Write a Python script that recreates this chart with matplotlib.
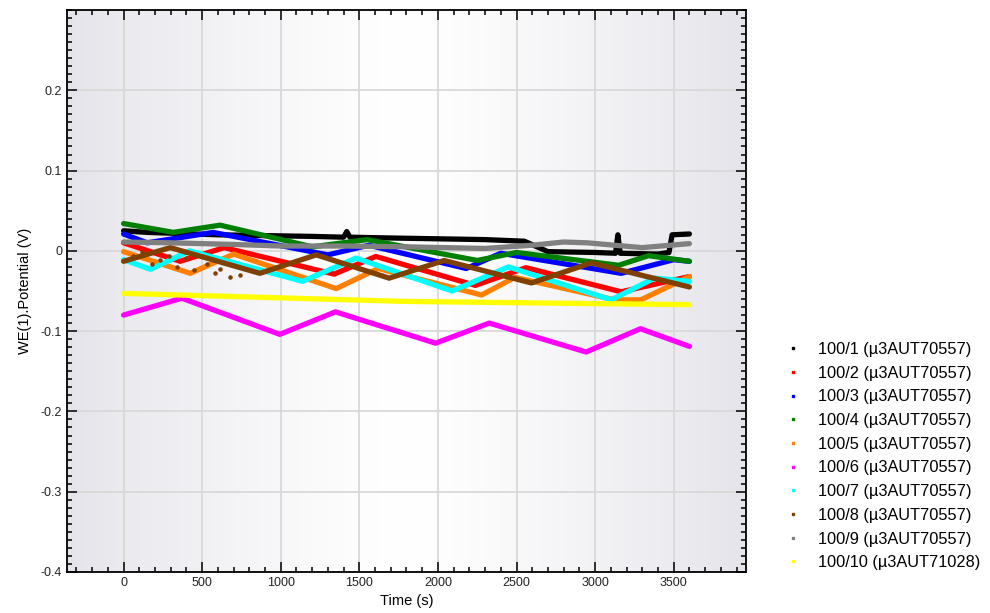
import numpy as np
import matplotlib.pyplot as plt
from matplotlib.lines import Line2D
from matplotlib.ticker import MultipleLocator

plt.rcParams['font.family'] = ['Liberation Sans', 'DejaVu Sans']

# Series data (time in s, potential in V)
t1 = [0, 150, 300, 600, 900, 1200, 1400, 1420, 1440, 1700, 2000, 2300, 2550, 2700, 3000, 3130, 3145, 3160, 3400, 3470, 3490, 3600]
v1 = [0.025, 0.023, 0.022, 0.020, 0.019, 0.018, 0.017, 0.024, 0.017, 0.016, 0.015, 0.014, 0.012, -0.001, -0.002, -0.003, 0.020, -0.003, -0.004, -0.002, 0.020, 0.021]

t2 = [0, 360, 640, 1340, 1605, 2238, 2560, 3166, 3600]
v2 = [0.010, -0.013, 0.004, -0.029, -0.007, -0.043, -0.021, -0.051, -0.032]

t3 = [0, 150, 570, 1300, 1560, 2180, 2400, 3166, 3500, 3600]
v3 = [0.021, 0.010, 0.023, -0.005, 0.007, -0.022, -0.003, -0.028, -0.011, -0.013]

t4 = [0, 316, 614, 1200, 1550, 2250, 2500, 3150, 3340, 3600]
v4 = [0.034, 0.023, 0.032, 0.005, 0.014, -0.012, -0.002, -0.018, -0.006, -0.013]

t5 = [0, 424, 700, 1353, 1620, 2278, 2490, 3124, 3291, 3600]
v5 = [-0.001, -0.028, -0.004, -0.047, -0.022, -0.055, -0.033, -0.061, -0.061, -0.032]

t6 = [0, 371, 994, 1348, 1985, 2327, 2943, 3289, 3600]
v6 = [-0.080, -0.059, -0.104, -0.076, -0.115, -0.090, -0.126, -0.097, -0.119]

t7 = [0, 171, 420, 1139, 1479, 2090, 2449, 3103, 3378, 3600]
v7 = [-0.011, -0.023, 0.000, -0.038, -0.009, -0.050, -0.020, -0.061, -0.034, -0.038]

t8 = [0, 297, 867, 1226, 1690, 2040, 2595, 2975, 3600]
v8 = [-0.013, 0.004, -0.028, -0.005, -0.034, -0.012, -0.040, -0.015, -0.045]

t9 = [0, 300, 700, 1000, 1400, 1800, 2300, 2600, 2800, 2950, 3300, 3600]
v9 = [0.011, 0.010, 0.008, 0.006, 0.006, 0.005, 0.003, 0.007, 0.011, 0.010, 0.004, 0.009]

t10 = [0, 1800, 3600]
v10 = [-0.053, -0.063, -0.067]

# scattered outlier points of series 100/8
t8_out = [60, 120, 180, 234, 290, 340, 400, 450, 530, 580, 614, 677, 740]
v8_out = [-0.006, -0.002, -0.016, -0.011, -0.007, -0.020, -0.009, -0.024, -0.016, -0.027, -0.022, -0.032, -0.030]

labels = ["100/1 (µ3AUT70557)", "100/2 (µ3AUT70557)", "100/3 (µ3AUT70557)", "100/4 (µ3AUT70557)",
          "100/5 (µ3AUT70557)", "100/6 (µ3AUT70557)", "100/7 (µ3AUT70557)", "100/8 (µ3AUT70557)",
          "100/9 (µ3AUT70557)", "100/10 (µ3AUT71028)"]
colors = ["#000000", "#ff0000", "#0000ff", "#008000", "#ff8000",
          "#ff00ff", "#00ffff", "#804000", "#808080", "#ffff00"]
series = [(t1, v1), (t2, v2), (t3, v3), (t4, v4), (t5, v5),
          (t6, v6), (t7, v7), (t8, v8), (t9, v9), (t10, v10)]

yticks = [-0.4, -0.3, -0.2, -0.1, 0, 0.1, 0.2]
ytick_labels = ["-0.4", "-0.3", "-0.2", "-0.1", "0", "0.1", "0.2"]

fig = plt.figure(figsize=(9.9, 6.13), dpi=100)
ax = fig.add_axes([0.0677, 0.0669, 0.6858, 0.9168])

# horizontal grey-white-grey background
f = np.linspace(0, 1, 400)
w = np.abs(f - 0.5) / 0.5
w = w ** 1.3
edge = np.array([0.895, 0.895, 0.92])
grad = (1 - w)[:, None] * np.array([1.0, 1.0, 1.0]) + w[:, None] * edge
ax.imshow(grad[None, :, :], extent=[0, 1, 0, 1], transform=ax.transAxes,
          aspect='auto', zorder=0, interpolation='bilinear')

for (t, v), c in zip(series, colors):
    ax.plot(t, v, color=c, lw=3.8, solid_capstyle='round', solid_joinstyle='round', zorder=3)
    if c == "#804000":
        ax.scatter(t8_out, v8_out, s=5, color=c, zorder=3)

ax.set_xlim(-360, 3960)
ax.set_ylim(-0.4, 0.3)
ax.set_xticks(np.arange(0, 3501, 500))
ax.set_yticks(yticks)
ax.set_yticklabels(ytick_labels)
ax.xaxis.set_minor_locator(MultipleLocator(100))
ax.yaxis.set_minor_locator(MultipleLocator(0.01))
ax.grid(True, which='major', color='#d9d9d9', lw=1.3, zorder=1)
ax.set_axisbelow(True)
ax.tick_params(which='both', direction='in', top=True, right=True, width=1.1,
               labelsize=9, labelcolor='#222222')
ax.tick_params(which='major', length=7)
ax.tick_params(which='minor', length=3.5)
for s in ax.spines.values():
    s.set_linewidth(1.3)

ax.set_xlabel("Time (s)", fontsize=10.5, labelpad=4)
ax.set_ylabel("WE(1).Potential (V)", fontsize=10.5, labelpad=6)

handles = [Line2D([], [], marker='s', ms=2, color=c, ls='none') for c in colors]
fig.legend(handles, labels, loc='upper left', bbox_to_anchor=(0.793, 0.442),
           frameon=False, fontsize=11.8, handlelength=1.0, handletextpad=1.0,
           labelspacing=0.53, borderpad=0, borderaxespad=0)

fig.savefig("out.png", dpi=100)
